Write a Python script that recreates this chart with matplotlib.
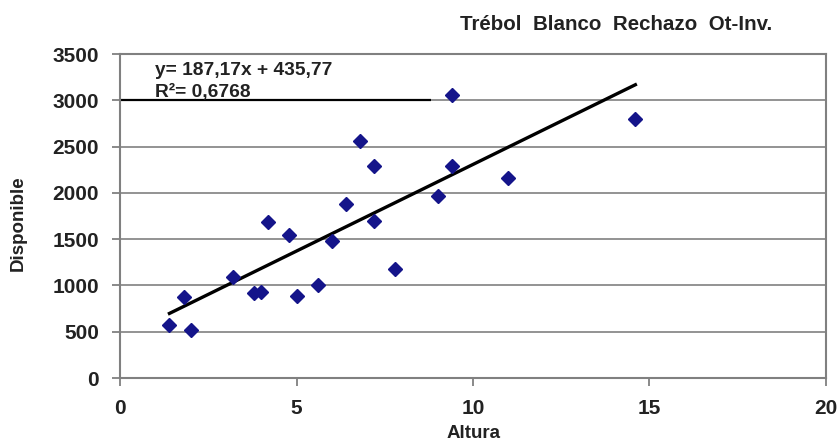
import matplotlib
matplotlib.use("Agg")
import matplotlib.pyplot as plt
import numpy as np

plt.rcParams['font.family'] = ['Liberation Sans', 'DejaVu Sans']

# Altura vs Disponible observations
altura = [1.4, 1.8, 2.0, 3.2, 3.8, 4.0, 4.2, 4.8, 5.0, 5.6, 6.0,
          6.4, 6.8, 7.2, 7.2, 7.8, 9.0, 9.4, 9.4, 11.0, 14.6]
disponible = [570, 875, 515, 1095, 920, 930, 1690, 1540, 885, 1000, 1475,
              1885, 2560, 2295, 1700, 1180, 1970, 3055, 2295, 2165, 2795]

# Linear trend reported on the chart
slope = 187.17
intercept = 435.77
r2_text = "0,6768"

title = "Trébol  Blanco  Rechazo  Ot-Inv."
xlabel = "Altura"
ylabel = "Disponible"
xticks = [0, 5, 10, 15, 20]
yticks = [0, 500, 1000, 1500, 2000, 2500, 3000, 3500]
rule_y = 3000
rule_xmax = 8.8

text_color = "#222222"
grey = "#808080"

fig = plt.figure(figsize=(8.4, 4.43), dpi=100)
ax = fig.add_axes([0.1429, 0.1467, 0.8404, 0.7313])

ax.set_xlim(0, 20)
ax.set_ylim(0, 3500)
ax.set_xticks(xticks)
ax.set_yticks(yticks)
ax.yaxis.grid(True, color="#8a8a8a", linewidth=1.3)
ax.set_axisbelow(True)

for side in ["top", "right", "left", "bottom"]:
    ax.spines[side].set_color(grey)
    ax.spines[side].set_linewidth(1.5)

ax.tick_params(axis="both", direction="out", length=6, width=1.3, color=grey,
               labelsize=15, labelcolor=text_color, pad=9)
for lab in ax.get_xticklabels() + ax.get_yticklabels():
    lab.set_fontweight("bold")

# trend line across the observed range
xs = np.array([min(altura), max(altura)])
ax.plot(xs, slope * xs + intercept, color="black", linewidth=2.4, zorder=3)

ax.plot(altura, disponible, linestyle="none", marker="D", markersize=7.5,
        color="#14148a", markeredgecolor="#14148a", zorder=4)

# equation box underline
ax.hlines(rule_y, 0, rule_xmax, color="black", linewidth=1.6, zorder=2)

eq = "y= {}x + {}".format(f"{slope:.2f}".replace(".", ","),
                          f"{intercept:.2f}".replace(".", ","))
ax.text(35 / 706, 1 - 16 / 324, eq, transform=ax.transAxes, fontsize=13.8,
        fontweight="bold", color=text_color, va="center", ha="left")
ax.text(35 / 706, 1 - 38 / 324, "R\u00b2= " + r2_text,
        transform=ax.transAxes, fontsize=13.8, fontweight="bold",
        color=text_color, va="center", ha="left")

fig.text(616.5 / 840, 1 - 24 / 443, title, fontsize=14.8, fontweight="bold",
         color=text_color, ha="center", va="center")
fig.text(474 / 840, 1 - 434 / 443, xlabel, fontsize=13.5, fontweight="bold",
         color=text_color, ha="center", va="center")
fig.text(18 / 840, 1 - 223.5 / 443, ylabel, fontsize=13.5, fontweight="bold",
         color=text_color, ha="center", va="center", rotation=90)

fig.savefig("out.png", dpi=100)
